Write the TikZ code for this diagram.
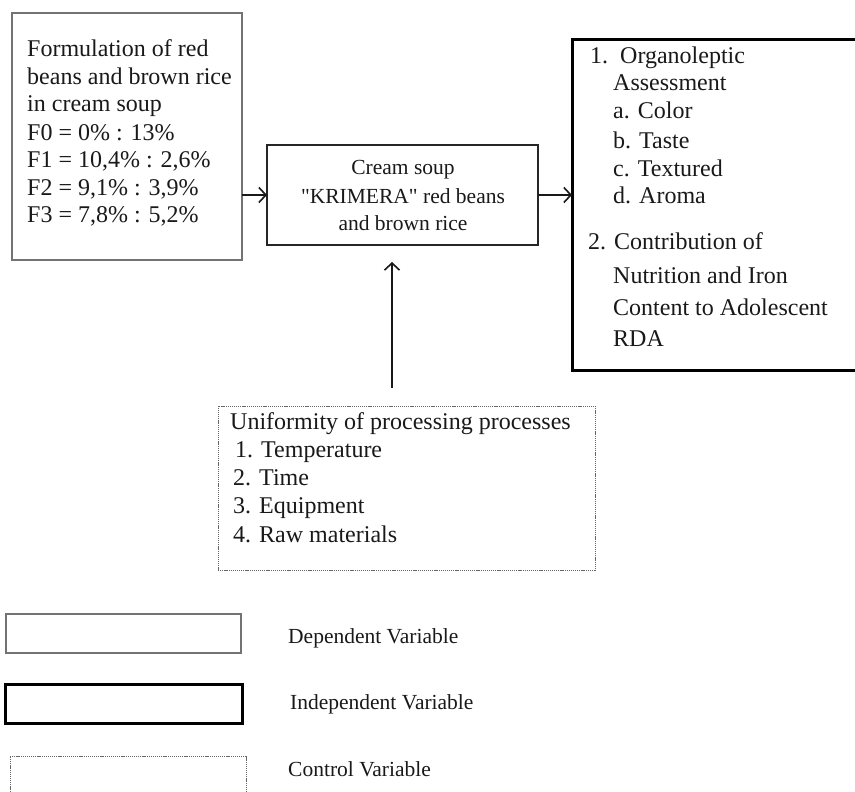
\documentclass[tikz,border=0pt]{standalone}
\usepackage{fontspec}
\setmainfont{Liberation Serif}[Ligatures=TeXOff]
\usetikzlibrary{arrows.meta}

\tikzset{
    depbox/.style={draw=black!55, line width=1.3pt, rectangle, inner sep=0pt, outer sep=0pt},
    soupbox/.style={draw=black!85, line width=1.2pt, rectangle, inner sep=0pt, outer sep=0pt},
    indbox/.style={draw=black, line width=3pt, rectangle, inner sep=0pt, outer sep=0pt},
    ctrlbox/.style={draw=black!60, line width=1pt, dash pattern=on 1.2pt off 0.9pt, rectangle, inner sep=0pt, outer sep=0pt},
    txt/.style={anchor=base west, inner sep=0pt, font=\fontsize{24}{28}\selectfont, text=black!90},
    soupline/.style={anchor=base, inner sep=0pt, font=\fontsize{21.5}{26}\selectfont, text=black!90},
    legtxt/.style={anchor=base west, inner sep=0pt, font=\fontsize{21.5}{25}\selectfont, text=black!90},
    arr/.style={-{Straight Barb[length=7pt,width=15pt,line width=1.6pt]}, line width=1.8pt, black!90}
}

\begin{document}
\begin{tikzpicture}[x=1pt,y=-1pt]
        \clip (0,0) rectangle (855,792);

            % boxes
            \node[depbox, minimum width=230pt, minimum height=247pt] (form) at (127,136.5) {};
            \node[soupbox, minimum width=271pt, minimum height=100pt] (soup) at (402.5,195) {};
            \node[indbox, minimum width=293pt, minimum height=330pt] (result) at (718.5,205) {};
            \node[ctrlbox, minimum width=377pt, minimum height=164pt] (ctrl) at (406.5,488) {};

            % formulation
            \node[txt] (f1) at (27,57) {Formulation of red};
            \node[txt] (f2) at (27,84.5) {beans and brown rice};
            \node[txt] (f3) at (27,112) {in cream soup};
            \node[txt] (f4) at (27,140) {F0 = 0\% : 13\%};
            \node[txt] (f5) at (27,167) {F1 = 10,4\% : 2,6\%};
            \node[txt] (f6) at (27,195) {F2 = 9,1\% : 3,9\%};
            \node[txt] (f7) at (27,222) {F3 = 7,8\% : 5,2\%};

            % cream soup
            \node[soupline] (s1) at (403,175) {Cream soup};
            \node[soupline] (s2) at (403,203) {"KRIMERA" red beans};
            \node[soupline] (s3) at (403,230) {and brown rice};

            % result
            \node[txt] (r1) at (590,64) {1.};
            \node[txt] (r2) at (620,64) {Organoleptic};
            \node[txt] (r3) at (613,91) {Assessment};
            \node[txt] (r4) at (613,119) {a. Color};
            \node[txt] (r5) at (613,148) {b. Taste};
            \node[txt] (r6) at (613,176) {c. Textured};
            \node[txt] (r7) at (613,203) {d. Aroma};
            \node[txt] (r8) at (588,249) {2. Contribution of};
            \node[txt] (r9) at (613,283) {Nutrition and Iron};
            \node[txt] (r10) at (613,315) {Content to Adolescent};
            \node[txt] (r11) at (613,346) {RDA};

            % control
            \node[txt] (c1) at (230,429) {Uniformity of processing processes};
            \node[txt] (c2) at (235,457) {1. Temperature};
            \node[txt] (c3) at (233,485) {2. Time};
            \node[txt] (c4) at (233,513) {3. Equipment};
            \node[txt] (c5) at (233,542) {4. Raw materials};

            % draw arrow
            \coordinate (ctrlin) at (392,388);
            \draw[arr] (form.east |- soup.west) -- (soup.west);
            \draw[arr] (soup.east) -- (soup.east -| result.west);
            \draw[arr, shorten >=17pt] (ctrlin) -- (ctrlin |- soup.south);

            % legend
            \node[depbox, minimum width=235pt, minimum height=39pt] (legdep) at (123.5,633.5) {};
            \node[indbox, minimum width=237pt, minimum height=39pt] (legind) at (123.5,703.5) {};
            \node[ctrlbox, minimum width=236pt, minimum height=50pt] (legctrl) at (128,781) {};
            \node[legtxt] (tdep) at (288,643) {Dependent Variable};
            \node[legtxt] (tind) at (290,709) {Independent Variable};
            \node[legtxt] (tctrl) at (288,776) {Control Variable};
    \end{tikzpicture}
\end{document}
